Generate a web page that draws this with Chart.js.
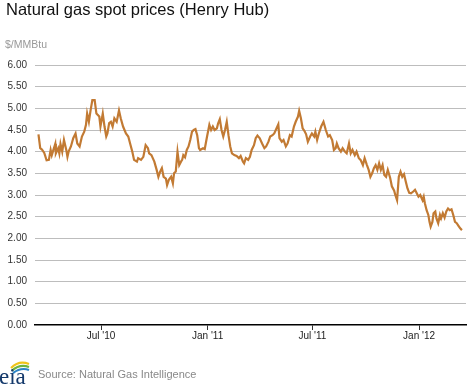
<!DOCTYPE html>
<html>
<head>
<meta charset="utf-8">
<script src="https://cdn.jsdelivr.net/npm/chart.js@4.4.1/dist/chart.umd.min.js"></script>
<style>
  body { margin: 0; background: #fff; }
  #wrap { position: relative; width: 470px; height: 385px; font-family: "Liberation Sans", Arial, sans-serif; }
  #title { position: absolute; left: 6px; top: 0px; font-size: 16.5px; color: #111; }
  #unit { position: absolute; left: 5px; top: 38px; font-size: 10.5px; color: #999; }
  #source { position: absolute; left: 38px; top: 368px; font-size: 11px; color: #888; }
  #logo { position: absolute; left: 0; top: 359px; }
  canvas { position: absolute; left: 0; top: 0; }
</style>
</head>
<body>
<div id="wrap">
  <canvas id="myChart" width="470" height="385"></canvas>
  <div id="title">Natural gas spot prices (Henry Hub)</div>
  <div id="unit">$/MMBtu</div>
  <svg id="logo" width="32" height="26">
    <path d="M11 9 Q19 1 29 5" stroke="#f0c419" stroke-width="2.2" fill="none"/>
    <path d="M12 11.5 Q20 4.5 29 8" stroke="#6db33f" stroke-width="2.2" fill="none"/>
    <path d="M13 14 Q21 8 29 11" stroke="#2c85c8" stroke-width="2.2" fill="none"/>
    <text x="-1" y="25" font-family="Liberation Serif, serif" font-size="23" fill="#14396b">eia</text>
  </svg>
  <div id="source">Source: Natural Gas Intelligence</div>
</div>
<script>
// days since 1 Jan 2010
var days = [73, 76, 79, 83, 87, 91, 94, 96, 102, 103, 107, 109, 111, 114, 117, 121, 123, 125, 129, 133,
  137, 140, 144, 148, 152, 155, 157, 160, 163, 166, 170, 173, 178, 180, 184, 187, 190, 192, 195, 198,
  201, 204, 208, 212, 215, 219, 224, 228, 232, 235, 238, 243, 245, 250, 254, 258, 262, 264, 268, 273,
  277, 280, 283, 286, 289, 293, 295, 298, 302, 305, 307, 310, 313, 316, 319, 321, 323, 326, 329, 332,
  335, 338, 341, 344, 347, 350, 352, 357, 360, 364, 368, 371, 374, 377, 381, 383, 386, 389, 392, 395,
  398, 401, 404, 407, 411, 415, 419, 422, 426, 428, 431, 435, 438, 441, 445, 448, 451, 455, 459, 463,
  466, 470, 473, 477, 480, 484, 487, 489, 493, 496, 500, 503, 507, 510, 514, 517, 521, 523, 526, 529,
  532, 535, 538, 542, 545, 549, 551, 554, 557, 561, 565, 569, 573, 576, 580, 583, 586, 588, 591, 595,
  598, 602, 605, 609, 612, 615, 619, 622, 626, 629, 633, 636, 640, 643, 646, 649, 652, 655, 658, 661,
  664, 667, 670, 673, 676, 680, 683, 687, 689, 692, 695, 698, 701, 704, 707, 710, 713, 716, 720, 723,
  726, 729, 732, 736, 738, 740, 743, 746, 748, 750, 753, 755, 758, 760, 763, 766, 768, 771, 774, 777,
  780, 783, 786, 789, 792, 795, 798, 801, 804];

// Henry Hub spot price, $/MMBtu
var prices = [4.40, 4.08, 4.05, 3.97, 3.80, 3.81, 4.04, 3.92, 4.18, 3.96, 4.08, 3.96, 4.18, 4.00, 4.27, 4.04, 3.88, 4.00, 4.12, 4.31,
  4.42, 4.19, 4.12, 4.35, 4.46, 4.62, 4.88, 4.69, 4.96, 5.19, 5.19, 4.88, 4.81, 4.58, 4.88, 4.58, 4.35, 4.42, 4.66, 4.69,
  4.58, 4.77, 4.69, 4.95, 4.77, 4.58, 4.42, 4.35, 4.15, 4.00, 3.81, 3.77, 3.85, 3.81, 3.88, 4.15, 4.08, 3.96, 3.92, 3.77,
  3.58, 3.42, 3.54, 3.62, 3.42, 3.38, 3.23, 3.35, 3.42, 3.27, 3.50, 3.54, 4.00, 3.69, 3.77, 3.81, 3.92, 3.87, 4.04, 4.12,
  4.27, 4.46, 4.50, 4.52, 4.38, 4.08, 4.04, 4.08, 4.06, 4.35, 4.62, 4.50, 4.58, 4.50, 4.54, 4.65, 4.75, 4.50, 4.35, 4.50,
  4.69, 4.38, 4.12, 3.96, 3.92, 3.90, 3.85, 3.90, 3.77, 3.73, 3.85, 3.81, 3.88, 4.04, 4.15, 4.31, 4.37, 4.31, 4.19, 4.08,
  4.12, 4.23, 4.35, 4.38, 4.42, 4.54, 4.63, 4.31, 4.23, 4.27, 4.12, 4.19, 4.38, 4.35, 4.58, 4.69, 4.81, 4.94, 4.77, 4.54,
  4.48, 4.40, 4.23, 4.35, 4.42, 4.35, 4.46, 4.27, 4.42, 4.58, 4.69, 4.50, 4.35, 4.38, 4.27, 4.04, 4.08, 4.19, 4.08, 4.00,
  4.08, 4.00, 3.96, 4.19, 3.96, 4.04, 3.92, 4.00, 3.85, 3.81, 3.69, 3.85, 3.69, 3.58, 3.42, 3.50, 3.62, 3.69, 3.58, 3.73,
  3.58, 3.69, 3.46, 3.42, 3.58, 3.40, 3.20, 3.10, 3.00, 2.88, 3.42, 3.54, 3.42, 3.48, 3.31, 3.15, 3.05, 3.04, 3.08, 3.12,
  3.04, 2.96, 3.00, 2.88, 2.96, 2.81, 2.65, 2.54, 2.38, 2.27, 2.38, 2.58, 2.62, 2.46, 2.35, 2.54, 2.46, 2.58, 2.48, 2.62,
  2.69, 2.65, 2.67, 2.54, 2.38, 2.35, 2.29, 2.23, 2.19];

var tickDays = [181, 365, 546, 730];
var tickLabels = ["Jul '10", "Jan '11", "Jul '11", "Jan '12"];

var points = days.map(function(d, i) { return { x: d, y: prices[i] }; });

var ctx = document.getElementById('myChart').getContext('2d');
var myChart = new Chart(ctx, {
    type: 'line',
    data: {
        datasets: [{
            data: points,
            borderColor: '#c27a33',
            borderWidth: 2.2,
            pointRadius: 0,
            tension: 0,
            fill: false
        }]
    },
    options: {
        responsive: false,
        animation: false,
        layout: { padding: { top: 65, right: 4, bottom: 40, left: 0 } },
        plugins: { legend: { display: false }, tooltip: { enabled: false } },
        scales: {
            x: {
                type: 'linear',
                min: 67,
                max: 811,
                afterBuildTicks: function(scale) {
                    scale.ticks = tickDays.map(function(v) { return { value: v }; });
                },
                afterFit: function(scale) { scale.height = 20; },
                border: { display: true, color: '#000', width: 1.5 },
                grid: { drawOnChartArea: false, drawTicks: true, tickLength: 5, color: '#333' },
                ticks: {
                    autoSkip: false,
                    maxRotation: 0,
                    padding: 0,
                    color: '#222',
                    font: { family: 'Liberation Sans', size: 10 },
                    callback: function(v) { return tickLabels[tickDays.indexOf(v)]; }
                }
            },
            y: {
                min: 0,
                max: 6,
                afterFit: function(scale) { scale.width = 35; },
                border: { display: false },
                grid: {
                    drawTicks: false,
                    color: function(c) { return c.tick.value === 0 ? 'rgba(0,0,0,0)' : '#bdbdbd'; }
                },
                ticks: {
                    stepSize: 0.5,
                    padding: 8,
                    color: '#333',
                    font: { family: 'Liberation Sans', size: 10 },
                    callback: function(v) { return v.toFixed(2); }
                }
            }
        }
    }
});
</script>
</body>
</html>
